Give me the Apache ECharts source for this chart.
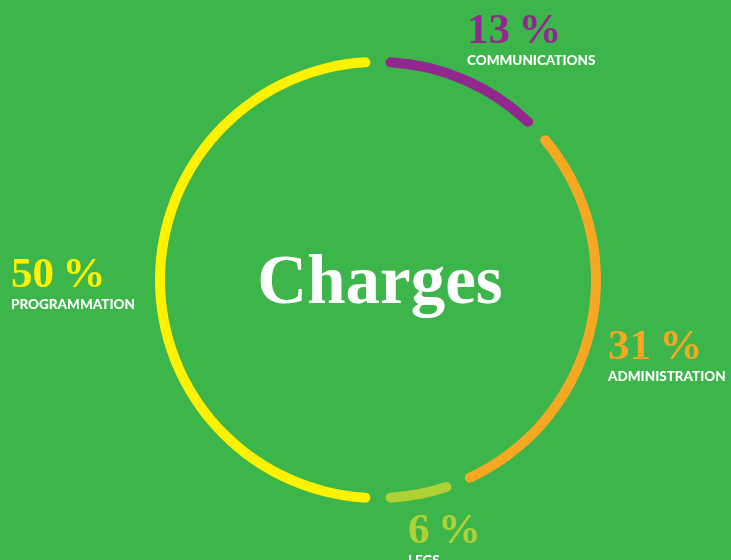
<!DOCTYPE html>
<html>
<head>
<meta charset="utf-8">
<script src="https://cdn.jsdelivr.net/npm/echarts@6/dist/echarts.min.js"></script>
<style>
  html, body { margin: 0; padding: 0; background: #3cb54a; }
  #chart { width: 731px; height: 560px; }
</style>
</head>
<body>
<div id="chart"></div>
<script>
const categories = ['COMMUNICATIONS', 'ADMINISTRATION', 'LEGS', 'PROGRAMMATION'];
const shares = [13, 31, 6, 50];
const colors = ['#92278f', '#f7a823', '#b0d136', '#fff200'];
// where each label block sits (top-left corner)
const labelSpots = [[467, 11], [608, 327], [408, 511], [11, 255]];

const chart = echarts.init(document.getElementById('chart'));

const option = {
  backgroundColor: '#3cb54a',
  animation: false,
  graphic: [{
    type: 'text',
    x: 380,
    y: 285,
    style: {
      text: 'Charges',
      fill: '#ffffff',
      font: 'bold 69px "Liberation Serif"',
      align: 'center',
      verticalAlign: 'middle'
    }
  }],
  series: [{
    type: 'pie',
    center: [378, 280],
    radius: [213, 223],
    startAngle: 90,
    padAngle: 4,
    avoidLabelOverlap: false,
    emphasis: { disabled: true },
    itemStyle: { borderRadius: 5 },
    label: {
      show: true,
      position: 'outside',
      formatter: p => '{p|' + p.value + '\u2009%}\n{n|' + p.name + '}',
      rich: {
        p: {
          fontFamily: 'Liberation Serif',
          fontWeight: 'bold',
          fontSize: 43,
          lineHeight: 42
        },
        n: {
          fontFamily: 'Lato',
          fontWeight: 900,
          fontSize: 13.5,
          lineHeight: 16,
          color: '#ffffff'
        }
      }
    },
    labelLine: { show: false },
    labelLayout: params => ({
      x: labelSpots[params.dataIndex][0],
      y: labelSpots[params.dataIndex][1],
      align: 'left',
      verticalAlign: 'top'
    }),
    data: categories.map((name, i) => ({
      name: name,
      value: shares[i],
      itemStyle: { color: colors[i] },
      label: { color: colors[i] }
    }))
  }]
};

chart.setOption(option);
</script>
</body>
</html>
